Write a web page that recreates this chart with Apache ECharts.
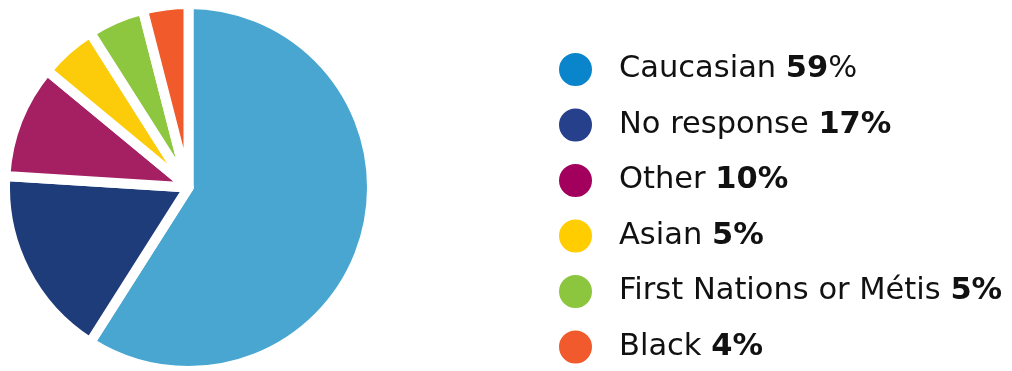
<!DOCTYPE html>
<html>
<head>
<meta charset="utf-8">
<script src="https://cdn.jsdelivr.net/npm/echarts@6/dist/echarts.min.js"></script>
<style>
  html, body { margin: 0; padding: 0; background: #ffffff; }
  #chart { width: 1012px; height: 371px; }
</style>
</head>
<body>
<div id="chart"></div>
<script>
// Respondent breakdown by group (percent)
const groups = ['Caucasian', 'No response', 'Other', 'Asian', 'First Nations or Métis', 'Black'];
const shares = [59, 17, 10, 5, 5, 4];
const sliceColors = ['#48a6d1', '#1f3c7a', '#a51f63', '#fccc0a', '#8dc63f', '#f15a2a'];
const keyColors = ['#0a85cc', '#26408c', '#a3005e', '#ffcd00', '#8cc63f', '#f15a2c'];

const chart = echarts.init(document.getElementById('chart'));

const FONT = 'DejaVu Sans';

chart.setOption({
  animation: false,
  legend: {
    orient: 'vertical',
    left: 557,
    top: 51,
    padding: 0,
    height: 330,
    itemWidth: 35,
    itemHeight: 35,
    itemGap: 18.5,
    icon: 'circle',
    selectedMode: false,
    data: groups.map((g, i) => ({ name: g, itemStyle: { color: keyColors[i] } })),
    formatter: function (name) {
      const i = groups.indexOf(name);
      // the lead share keeps a light percent sign
      if (i === 0) return '{n|' + name + ' }{b|' + shares[i] + '}{n|%}';
      return '{n|' + name + ' }{b|' + shares[i] + '%}';
    },
    textStyle: {
      padding: [0, 0, 0, 21],
      rich: {
        n: { fontFamily: FONT, fontSize: 30.5, color: '#111111' },
        b: { fontFamily: FONT, fontSize: 30.5, fontWeight: 'bold', color: '#111111' }
      }
    }
  },
  series: [{
    type: 'pie',
    center: [188.5, 187.5],
    radius: [0, 183.5],
    startAngle: 90,
    clockwise: true,
    label: { show: false },
    labelLine: { show: false },
    emphasis: { disabled: true },
    itemStyle: { borderColor: '#ffffff', borderWidth: 10 },
    data: groups.map((g, i) => ({
      name: g,
      value: shares[i],
      itemStyle: { color: sliceColors[i] }
    }))
  }]
});
</script>
</body>
</html>
